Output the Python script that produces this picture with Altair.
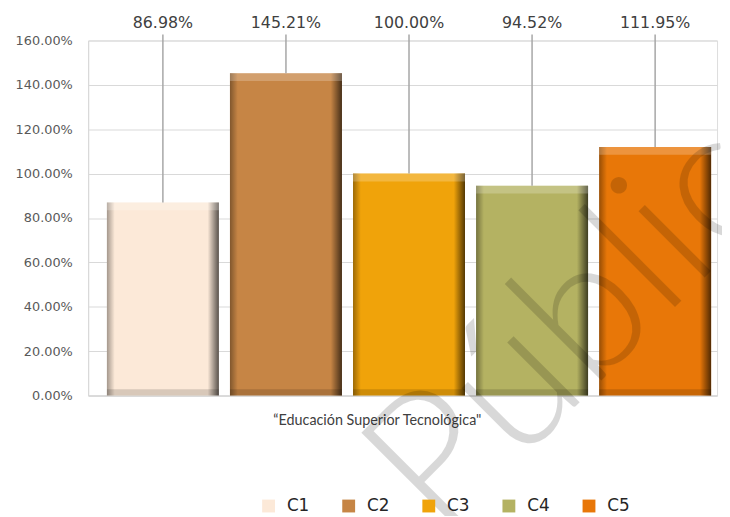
import altair as alt
import pandas as pd

series = ["C1", "C2", "C3", "C4", "C5"]
values = [0.8698, 1.4521, 1.0000, 0.9452, 1.1195]
colors = ["#FCE9D8", "#C68545", "#F0A30A", "#B4B262", "#E87708"]
category_label = "\u201cEducación Superior Tecnológica\""
y_ticks = [0, 0.2, 0.4, 0.6, 0.8, 1.0, 1.2, 1.4, 1.6]
watermark = "Público"

df = pd.DataFrame({"serie": series, "valor": values})

W, H = 636, 359
FONT = "DejaVu Sans"

x_enc = alt.X("serie:N",
              scale=alt.Scale(paddingInner=0.09, paddingOuter=0.1005, align=0.76),
              axis=alt.Axis(labels=False, ticks=False, domain=True, domainColor="#d0d0d0",
                            domainWidth=1, title=category_label, titleFont="Lato",
                            titleFontSize=14.5, titleFontWeight="normal", titleColor="#404040",
                            titleX=292, titleY=25, titleBaseline="middle", titleAlign="center",
                            grid=False))
y_scale = alt.Scale(domain=[0, 1.6], nice=False)

base = alt.Chart(df)

bars = base.mark_bar().encode(
    x=x_enc,
    y=alt.Y("valor:Q", scale=y_scale,
            axis=alt.Axis(values=y_ticks, format=".2%", title=None, ticks=False,
                          labelPadding=16, labelFont=FONT, labelFontSize=13,
                          labelColor="#595959", gridColor="#d9d9d9", gridWidth=1.2,
                          domainColor="#d9d9d9", domainWidth=1.2)),
    color=alt.Color("serie:N", scale=alt.Scale(domain=series, range=colors),
                    legend=alt.Legend(title=None, orient="none", legendX=174, legendY=462,
                                      direction="horizontal", columns=5, columnPadding=31,
                                      symbolType="square", symbolSize=169,
                                      symbolStrokeWidth=0, labelFont=FONT,
                                      labelFontSize=17, labelColor="#262626",
                                      labelOffset=10, padding=0)),
)

hgrad = alt.Gradient(
    gradient="linear", x1=0, x2=1, y1=0, y2=0,
    stops=[alt.GradientStop(color="rgba(0,0,0,0.35)", offset=0),
           alt.GradientStop(color="rgba(0,0,0,0.0)", offset=0.07),
           alt.GradientStop(color="rgba(0,0,0,0.0)", offset=0.90),
           alt.GradientStop(color="rgba(0,0,0,0.65)", offset=1)])

shade = base.mark_bar(fill=hgrad).encode(x=x_enc, y=alt.Y("valor:Q", scale=y_scale))

top_strip = base.transform_calculate(t2="datum.valor - 0.035").mark_bar(
    fill="rgba(255,255,255,0.22)").encode(
    x=x_enc, y=alt.Y("valor:Q", scale=y_scale), y2="t2:Q")

bot_strip = base.transform_calculate(b0="0", b1="0.028").mark_bar(
    fill="rgba(0,0,0,0.14)").encode(
    x=x_enc, y=alt.Y("b1:Q", scale=y_scale), y2="b0:Q")

rules = base.mark_rule(color="#a6a6a6", strokeWidth=1.5).encode(
    x=x_enc, y=alt.Y("valor:Q", scale=y_scale), y2=alt.value(-6))

labels = base.mark_text(font=FONT, fontSize=16, color="#404040", baseline="middle").encode(
    x=x_enc, y=alt.value(-18), text=alt.Text("valor:Q", format=".2%"))

wm = alt.Chart(pd.DataFrame({"t": [watermark]})).mark_text(
    font="Lato", fontWeight=300, fontSize=190, color="black", opacity=0.15,
    angle=315, align="center", baseline="alphabetic").encode(
    x=alt.value(568), y=alt.value(295), text="t:N")

chart = alt.layer(bars, shade, top_strip, bot_strip, rules, labels, wm).properties(
    width=W, height=H,
    autosize=alt.AutoSizeParams(type="none"),
    padding={"left": 81, "top": 30, "right": 5, "bottom": 119},
).configure_view(stroke=None).configure(background="white")

chart.save("out.html", embed_options={"renderer": "svg", "actions": False})
